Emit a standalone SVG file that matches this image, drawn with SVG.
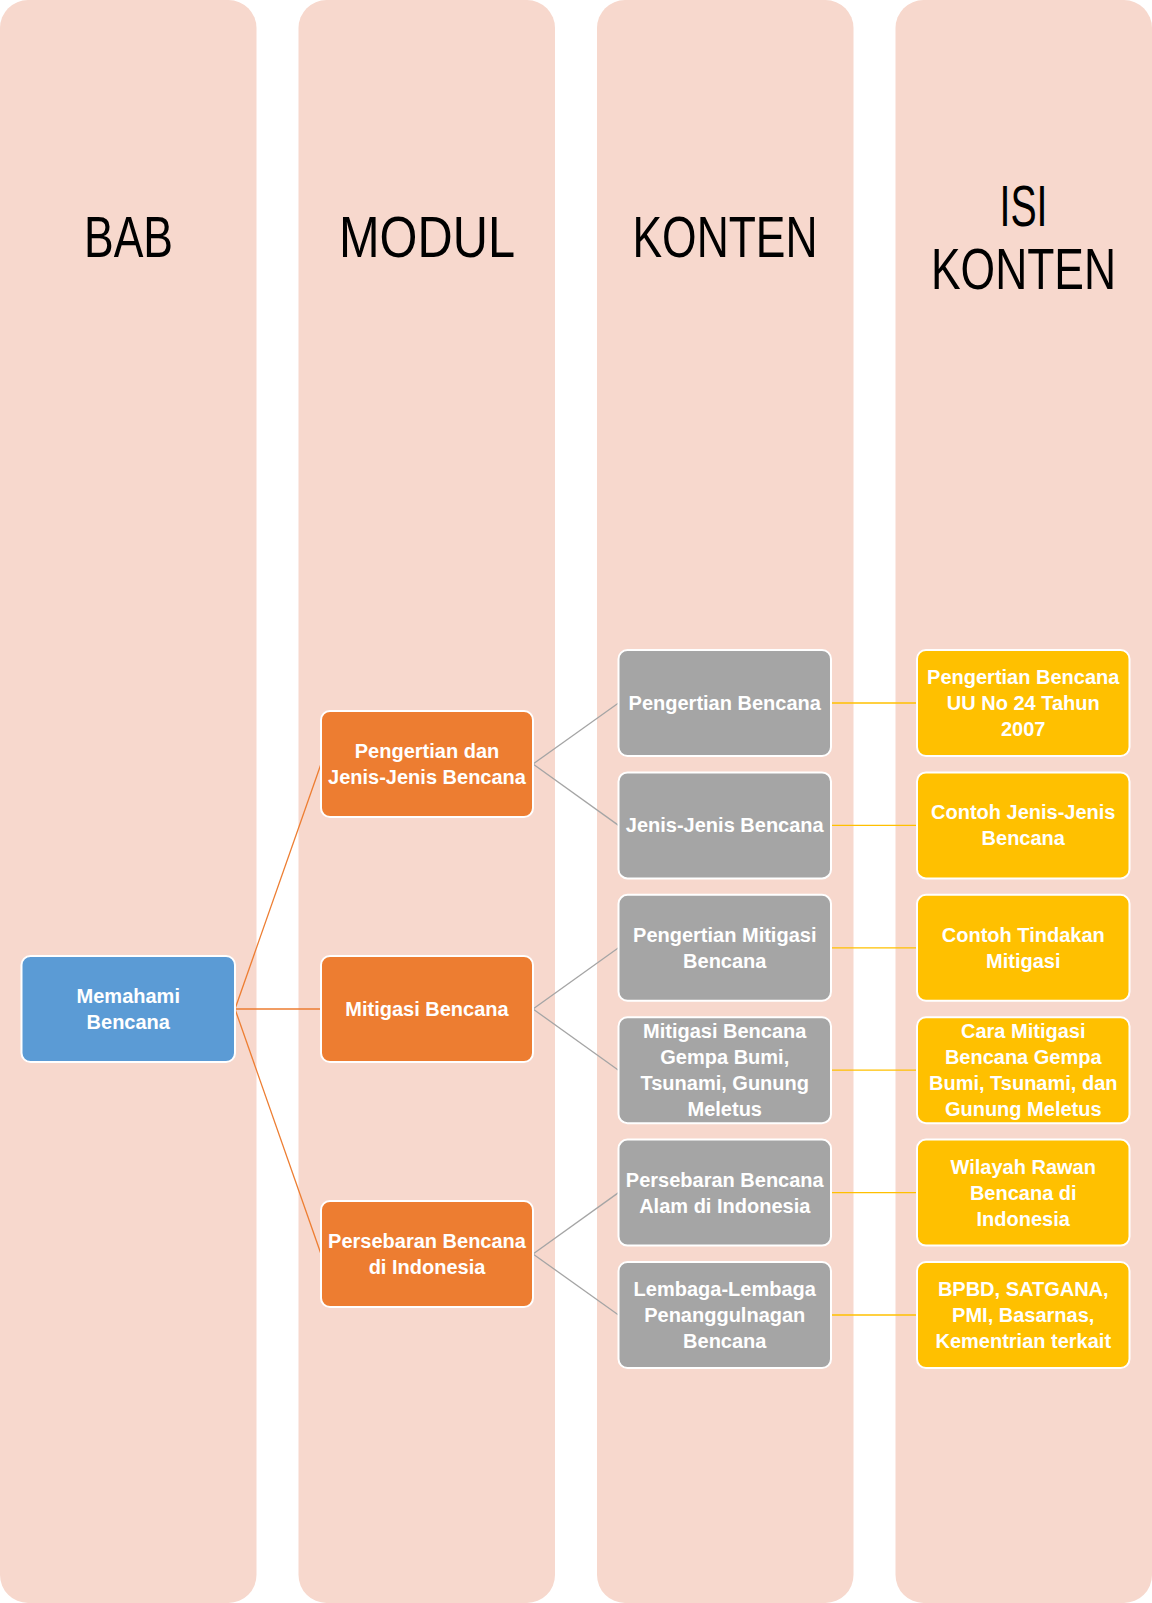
<svg xmlns="http://www.w3.org/2000/svg" width="1152" height="1603" viewBox="0 0 1152 1603">
<style>
.col{fill:#F7D8CD}
.hdr{font-family:"Liberation Sans",Arial,sans-serif;font-size:57px;fill:#000;text-anchor:middle}
.n rect{stroke:#fff;stroke-width:2}
.blue{fill:#5B9BD5}.orange{fill:#ED7D31}.gray{fill:#A5A5A5}.yellow{fill:#FFC000}
.lbl{font-family:"Liberation Sans",Arial,sans-serif;font-size:20px;font-weight:bold;fill:#fff;text-anchor:middle}
.co{stroke:#ED7D31;stroke-width:1.3;fill:none}
.cg{stroke:#A5A5A5;stroke-width:1.3;fill:none}
.cy{stroke:#FFC000;stroke-width:1.3;fill:none}
</style>
<g id="columns">
<rect class="col" x="0" y="0" width="256.5" height="1603" rx="28" ry="28"/>
<rect class="col" x="298.5" y="0" width="256.5" height="1603" rx="28" ry="28"/>
<rect class="col" x="597" y="0" width="256.5" height="1603" rx="28" ry="28"/>
<rect class="col" x="895.5" y="0" width="256.5" height="1603" rx="28" ry="28"/>
<text class="hdr" x="128.5" y="257" textLength="89" lengthAdjust="spacingAndGlyphs">BAB</text>
<text class="hdr" x="427" y="257" textLength="176" lengthAdjust="spacingAndGlyphs">MODUL</text>
<text class="hdr" x="725" y="257" textLength="185" lengthAdjust="spacingAndGlyphs">KONTEN</text>
<text class="hdr" x="1023.5" y="226" textLength="48" lengthAdjust="spacingAndGlyphs">ISI</text>
<text class="hdr" x="1023.5" y="289" textLength="185" lengthAdjust="spacingAndGlyphs">KONTEN</text>
</g>
<g id="connectors">
<line class="co" x1="235" y1="1009" x2="321" y2="764"/>
<line class="co" x1="235" y1="1009" x2="321" y2="1009"/>
<line class="co" x1="235" y1="1009" x2="321" y2="1254"/>
<line class="cg" x1="533" y1="764" x2="618.5" y2="703"/>
<line class="cg" x1="533" y1="764" x2="618.5" y2="825.4"/>
<line class="cg" x1="533" y1="1009" x2="618.5" y2="947.8"/>
<line class="cg" x1="533" y1="1009" x2="618.5" y2="1070.2"/>
<line class="cg" x1="533" y1="1254" x2="618.5" y2="1192.6"/>
<line class="cg" x1="533" y1="1254" x2="618.5" y2="1315"/>
<line class="cy" x1="831" y1="703" x2="917" y2="703"/>
<line class="cy" x1="831" y1="825.4" x2="917" y2="825.4"/>
<line class="cy" x1="831" y1="947.8" x2="917" y2="947.8"/>
<line class="cy" x1="831" y1="1070.2" x2="917" y2="1070.2"/>
<line class="cy" x1="831" y1="1192.6" x2="917" y2="1192.6"/>
<line class="cy" x1="831" y1="1315" x2="917" y2="1315"/>
</g>
<g id="bab1" class="n">
<rect class="blue" x="21.5" y="956" width="213.5" height="106" rx="9"/>
<text class="lbl" x="128.25" y="1003">Memahami</text>
<text class="lbl" x="128.25" y="1029">Bencana</text>
</g>
<g id="modul1" class="n">
<rect class="orange" x="321" y="711" width="212" height="106" rx="9"/>
<text class="lbl" x="427" y="758">Pengertian dan</text>
<text class="lbl" x="427" y="784">Jenis-Jenis Bencana</text>
</g>
<g id="modul2" class="n">
<rect class="orange" x="321" y="956" width="212" height="106" rx="9"/>
<text class="lbl" x="427" y="1016">Mitigasi Bencana</text>
</g>
<g id="modul3" class="n">
<rect class="orange" x="321" y="1201" width="212" height="106" rx="9"/>
<text class="lbl" x="427" y="1248">Persebaran Bencana</text>
<text class="lbl" x="427" y="1274">di Indonesia</text>
</g>
<g id="konten1" class="n">
<rect class="gray" x="618.5" y="650" width="212.5" height="106" rx="9"/>
<text class="lbl" x="724.75" y="710">Pengertian Bencana</text>
</g>
<g id="konten2" class="n">
<rect class="gray" x="618.5" y="772.4" width="212.5" height="106" rx="9"/>
<text class="lbl" x="724.75" y="832.4">Jenis-Jenis Bencana</text>
</g>
<g id="konten3" class="n">
<rect class="gray" x="618.5" y="894.8" width="212.5" height="106" rx="9"/>
<text class="lbl" x="724.75" y="941.8">Pengertian Mitigasi</text>
<text class="lbl" x="724.75" y="967.8">Bencana</text>
</g>
<g id="konten4" class="n">
<rect class="gray" x="618.5" y="1017.2" width="212.5" height="106" rx="9"/>
<text class="lbl" x="724.75" y="1038.2">Mitigasi Bencana</text>
<text class="lbl" x="724.75" y="1064.2">Gempa Bumi,</text>
<text class="lbl" x="724.75" y="1090.2">Tsunami, Gunung</text>
<text class="lbl" x="724.75" y="1116.2">Meletus</text>
</g>
<g id="konten5" class="n">
<rect class="gray" x="618.5" y="1139.6" width="212.5" height="106" rx="9"/>
<text class="lbl" x="724.75" y="1186.6">Persebaran Bencana</text>
<text class="lbl" x="724.75" y="1212.6">Alam di Indonesia</text>
</g>
<g id="konten6" class="n">
<rect class="gray" x="618.5" y="1262" width="212.5" height="106" rx="9"/>
<text class="lbl" x="724.75" y="1296">Lembaga-Lembaga</text>
<text class="lbl" x="724.75" y="1322">Penanggulnagan</text>
<text class="lbl" x="724.75" y="1348">Bencana</text>
</g>
<g id="isi1" class="n">
<rect class="yellow" x="917" y="650" width="212.5" height="106" rx="9"/>
<text class="lbl" x="1023.25" y="684">Pengertian Bencana</text>
<text class="lbl" x="1023.25" y="710">UU No 24 Tahun</text>
<text class="lbl" x="1023.25" y="736">2007</text>
</g>
<g id="isi2" class="n">
<rect class="yellow" x="917" y="772.4" width="212.5" height="106" rx="9"/>
<text class="lbl" x="1023.25" y="819.4">Contoh Jenis-Jenis</text>
<text class="lbl" x="1023.25" y="845.4">Bencana</text>
</g>
<g id="isi3" class="n">
<rect class="yellow" x="917" y="894.8" width="212.5" height="106" rx="9"/>
<text class="lbl" x="1023.25" y="941.8">Contoh Tindakan</text>
<text class="lbl" x="1023.25" y="967.8">Mitigasi</text>
</g>
<g id="isi4" class="n">
<rect class="yellow" x="917" y="1017.2" width="212.5" height="106" rx="9"/>
<text class="lbl" x="1023.25" y="1038.2">Cara Mitigasi</text>
<text class="lbl" x="1023.25" y="1064.2">Bencana Gempa</text>
<text class="lbl" x="1023.25" y="1090.2">Bumi, Tsunami, dan</text>
<text class="lbl" x="1023.25" y="1116.2">Gunung Meletus</text>
</g>
<g id="isi5" class="n">
<rect class="yellow" x="917" y="1139.6" width="212.5" height="106" rx="9"/>
<text class="lbl" x="1023.25" y="1173.6">Wilayah Rawan</text>
<text class="lbl" x="1023.25" y="1199.6">Bencana di</text>
<text class="lbl" x="1023.25" y="1225.6">Indonesia</text>
</g>
<g id="isi6" class="n">
<rect class="yellow" x="917" y="1262" width="212.5" height="106" rx="9"/>
<text class="lbl" x="1023.25" y="1296">BPBD, SATGANA,</text>
<text class="lbl" x="1023.25" y="1322">PMI, Basarnas,</text>
<text class="lbl" x="1023.25" y="1348">Kementrian terkait</text>
</g>
</svg>
